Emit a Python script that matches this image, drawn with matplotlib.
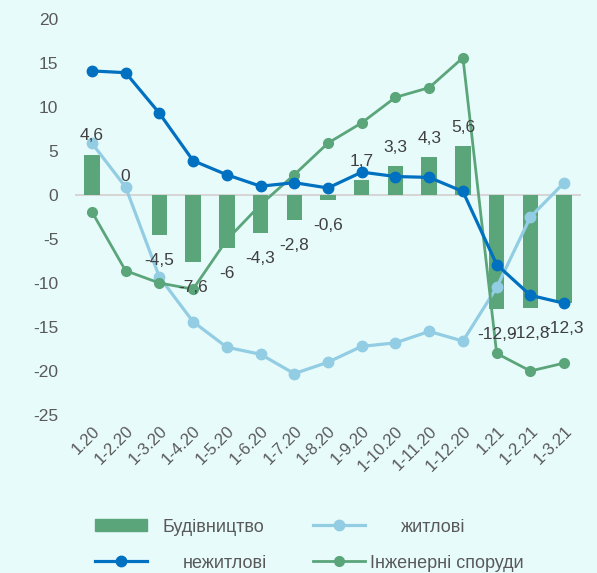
import numpy as np
import matplotlib
matplotlib.use("Agg")
import matplotlib.pyplot as plt
from matplotlib.patches import Patch
from matplotlib.lines import Line2D

plt.rcParams['font.family'] = ['Liberation Sans', 'DejaVu Sans']
plt.rcParams['axes.unicode_minus'] = False

months = ["1.20", "1-2.20", "1-3.20", "1-4.20", "1-5.20", "1-6.20", "1-7.20",
          "1-8.20", "1-9.20", "1-10.20", "1-11.20", "1-12.20", "1.21", "1-2.21", "1-3.21"]
budivnytstvo = [4.6, 0, -4.5, -7.6, -6, -4.3, -2.8, -0.6, 1.7, 3.3, 4.3, 5.6, -12.9, -12.8, -12.3]
zhytlovi = [5.9, 0.9, -9.3, -14.4, -17.3, -18.1, -20.3, -19.0, -17.2, -16.8, -15.5, -16.6, -10.5, -2.5, 1.4]
nezhytlovi = [14.1, 13.9, 9.3, 3.9, 2.3, 1.0, 1.4, 0.8, 2.6, 2.1, 2.0, 0.4, -7.9, -11.4, -12.3]
inzhenerni = [-1.9, -8.6, -10.0, -10.7, -5.1, -1.1, 2.3, 5.9, 8.2, 11.1, 12.2, 15.6, -18.0, -20.0, -19.1]

bg = "#e8fbfb"
c_bar = "#5aa57a"
c_light = "#92cde3"
c_dark = "#0070c0"
c_green = "#5aa57a"
c_text = "#595959"

fig = plt.figure(figsize=(5.97, 5.73), dpi=100, facecolor=bg)
ax = fig.add_axes([75/597, 1-415/573, 506/597, 396/573])
ax.set_facecolor(bg)

x = np.arange(len(months))
ax.axhline(0, color="#d6d6d6", lw=1.5, zorder=1)
bars = ax.bar(x, budivnytstvo, width=0.46, color=c_bar, zorder=2)
ax.plot(x, zhytlovi, color=c_light, lw=2.3, marker="o", ms=7.5, zorder=3)
ax.plot(x, nezhytlovi, color=c_dark, lw=2.3, marker="o", ms=7.5, zorder=4)
ax.plot(x, inzhenerni, color=c_green, lw=2.0, marker="o", ms=7, zorder=3)

for xi, v in zip(x, budivnytstvo):
    s = ("%g" % v).replace(".", ",")
    if v >= 0:
        ax.annotate(s, (xi, v), xytext=(0, 8), textcoords="offset points",
                    ha="center", va="bottom", fontsize=12.5, color="#404040", zorder=5)
    else:
        ax.annotate(s, (xi, v), xytext=(0, -13), textcoords="offset points",
                    ha="center", va="top", fontsize=12.5, color="#404040", zorder=5)

ax.set_xlim(-0.5, len(months) - 0.5)
ax.set_ylim(-25, 20)
ax.set_yticks(np.arange(-25, 21, 5))
ax.set_xticks(x)
ax.set_xticklabels(months, rotation=45, ha="right", rotation_mode="anchor")
ax.tick_params(axis="y", length=0, pad=12, labelsize=12.5, labelcolor=c_text)
ax.tick_params(axis="x", length=0, pad=6, labelsize=12, labelcolor=c_text)
for sp in ax.spines.values():
    sp.set_visible(False)

# legend entries placed one by one like the original layout
entries = [
    (Patch(color=c_bar), "Будівництво", 95, 527, 0.85),
    (Line2D([], [], color=c_light, lw=2.3, marker="o", ms=7.5), "житлові", 313, 527, 1.95),
    (Line2D([], [], color=c_dark, lw=2.3, marker="o", ms=7.5), "нежитлові", 95, 563, 1.95),
    (Line2D([], [], color=c_green, lw=2.0, marker="o", ms=7), "Інженерні споруди", 313, 563, 0.28),
]
for h, lab, px, py, pad in entries:
    fig.legend([h], [lab], loc="center left", bbox_to_anchor=(px/597, 1-py/573),
               frameon=False, borderpad=0, borderaxespad=0, handlelength=2.9,
               handleheight=0.6, handletextpad=pad, fontsize=13, labelcolor=c_text)

fig.savefig("out.png", dpi=100, facecolor=bg)
